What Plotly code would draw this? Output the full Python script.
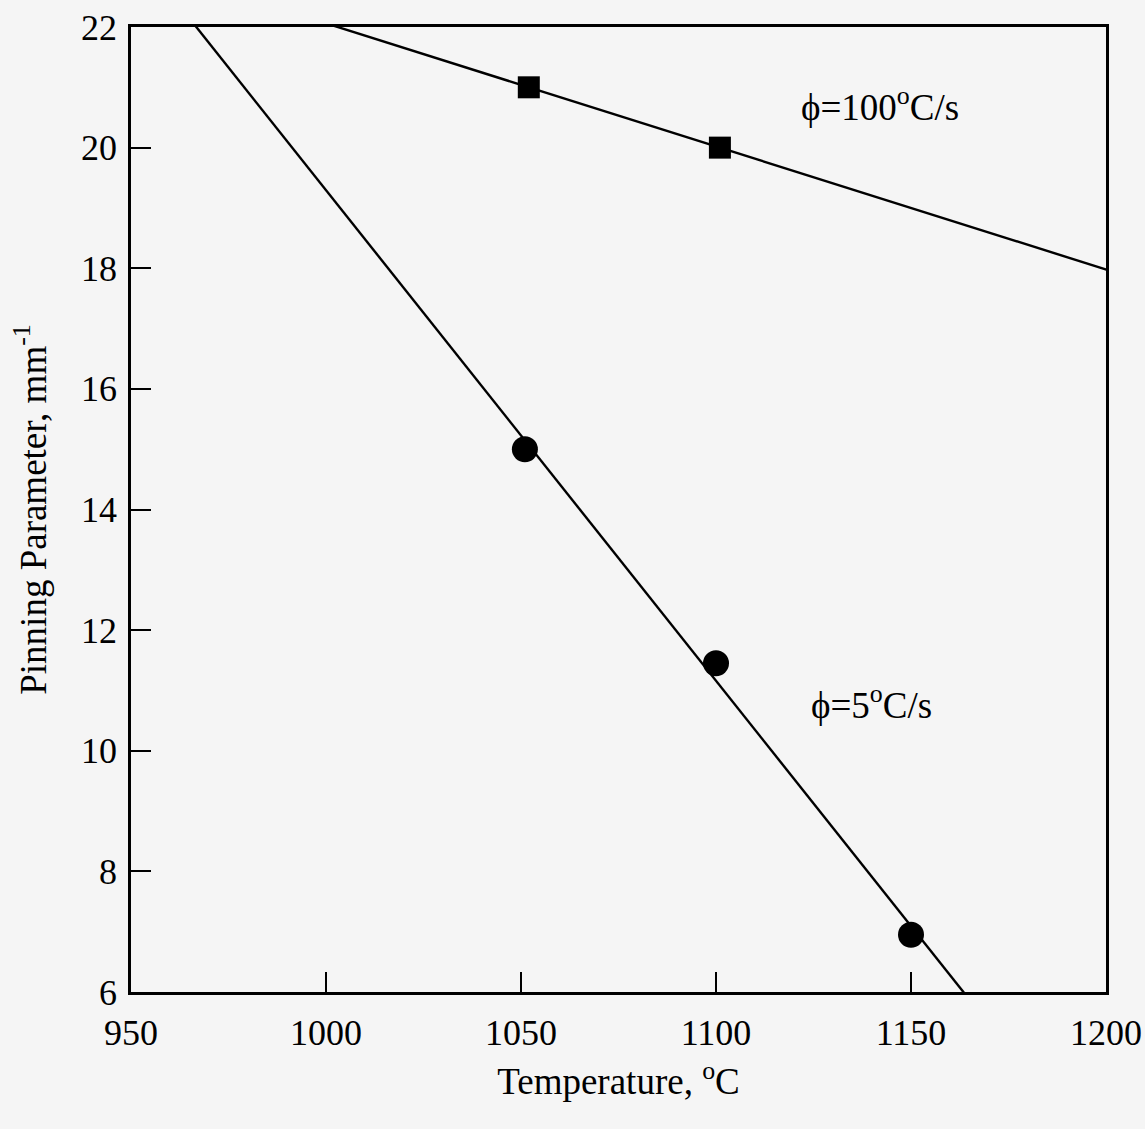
import numpy as np
import plotly.graph_objects as go

# Data
temp_100 = [1052, 1101]
pin_100 = [21.0, 20.0]
temp_5 = [1051, 1100, 1150]
pin_5 = [15.0, 11.45, 6.95]

x_ticks = [950, 1000, 1050, 1100, 1150, 1200]
y_ticks = [6, 8, 10, 12, 14, 16, 18, 20, 22]

FONT = "Liberation Serif, Times New Roman, serif"
BG = "#f5f5f5"

# Linear fits through each data set
fit_x = np.array([900.0, 1250.0])
c100 = np.polyfit(temp_100, pin_100, 1)
c5 = np.polyfit(temp_5, pin_5, 1)

fig = go.Figure()
fig.add_trace(go.Scatter(x=fit_x, y=np.polyval(c100, fit_x), mode="lines",
                         line=dict(color="black", width=2.4), showlegend=False))
fig.add_trace(go.Scatter(x=fit_x, y=np.polyval(c5, fit_x), mode="lines",
                         line=dict(color="black", width=2.4), showlegend=False))
fig.add_trace(go.Scatter(x=temp_100, y=pin_100, mode="markers",
                         marker=dict(symbol="square", size=22, color="black"),
                         showlegend=False, cliponaxis=False))
fig.add_trace(go.Scatter(x=temp_5, y=pin_5, mode="markers",
                         marker=dict(symbol="circle", size=26, color="black"),
                         showlegend=False, cliponaxis=False))

fig.add_annotation(x=1142.0, y=20.72, xref="x", yref="y", showarrow=False,
                   text="ϕ=100<sup>o</sup>C/s", font=dict(family=FONT, size=37, color="black"))
fig.add_annotation(x=1139.8, y=10.8, xref="x", yref="y", showarrow=False,
                   text="ϕ=5<sup>o</sup>C/s", font=dict(family=FONT, size=37, color="black"))

fig.update_layout(
    width=1145, height=1129,
    paper_bgcolor=BG, plot_bgcolor=BG,
    margin=dict(l=131, r=39, t=27, b=137, autoexpand=False),
    font=dict(family=FONT, size=36, color="black"),
    xaxis=dict(range=[950, 1200], tickvals=x_ticks, ticks="inside", ticklen=20,
               tickwidth=2, tickcolor="black", showline=True, linecolor="black",
               linewidth=2.5, mirror=True, showgrid=False, zeroline=False,
               ticklabelstandoff=7, automargin=False, ticklabeloverflow="allow",
               title=dict(text="Temperature, <sup>o</sup>C", standoff=17,
                          font=dict(family=FONT, size=37))),
    yaxis=dict(range=[6, 22], tickvals=y_ticks, ticks="inside", ticklen=20,
               tickwidth=2, tickcolor="black", showline=True, linecolor="black",
               linewidth=2.5, mirror=True, showgrid=False, zeroline=False,
               ticklabelstandoff=4, automargin=False, ticklabeloverflow="allow",
               title=dict(text="Pinning Parameter, mm<sup>-1</sup>", standoff=24,
                          font=dict(family=FONT, size=37))),
)

fig.write_html("out.html", config={"displayModeBar": False},
               post_script="document.body.style.margin='0';document.body.style.background='" + BG + "';")
